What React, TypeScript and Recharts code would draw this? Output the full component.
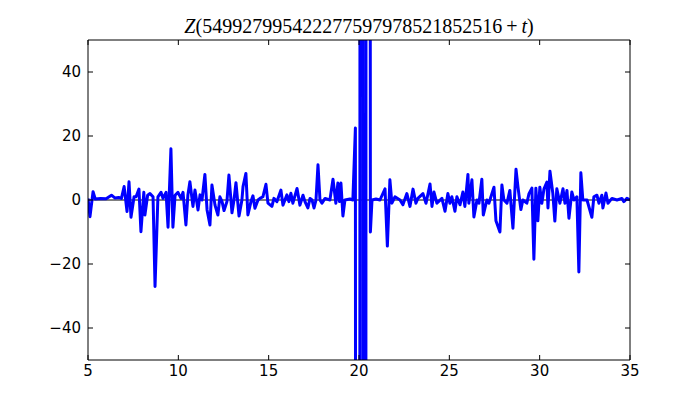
import { LineChart, Line, XAxis, YAxis, ReferenceLine } from "recharts";

// t positions and Z values
const tValues = [
  5.0, 5.11, 5.28, 5.4, 5.7, 6.0, 6.3, 6.5, 6.7, 6.85, 7.0, 7.16, 7.27, 7.38, 7.55, 7.66, 7.82, 7.93, 8.09, 8.15,
  8.3, 8.43, 8.6, 8.71, 8.87, 9.04, 9.15, 9.32, 9.43, 9.59, 9.7, 9.82, 9.98, 10.15, 10.26, 10.42, 10.53, 10.64, 10.81, 10.92,
  11.09, 11.2, 11.31, 11.47, 11.59, 11.75, 11.86, 12.03, 12.19, 12.3, 12.42, 12.53, 12.69, 12.8, 12.97, 13.08, 13.19, 13.36, 13.52, 13.58,
  13.74, 13.85, 14.02, 14.13, 14.24, 14.41, 14.52, 14.68, 14.85, 14.96, 15.18, 15.29, 15.46, 15.68, 15.79, 16.01, 16.12, 16.23, 16.34, 16.57,
  16.73, 16.9, 17.01, 17.17, 17.29, 17.4, 17.51, 17.62, 17.73, 17.84, 17.95, 18.12, 18.39, 18.56, 18.72, 18.83, 18.92, 19.0, 19.11, 19.22,
  19.5, 19.66, 19.8, 19.98, 20.12, 20.32, 20.45, 20.63, 20.72, 20.94, 21.16, 21.44, 21.57, 21.71, 21.82, 21.99, 22.27, 22.43, 22.65, 22.82,
  22.99, 23.15, 23.26, 23.54, 23.71, 23.93, 24.04, 24.15, 24.31, 24.59, 24.76, 24.92, 25.03, 25.14, 25.31, 25.42, 25.59, 25.75, 25.86, 26.03,
  26.08, 26.25, 26.36, 26.53, 26.64, 26.8, 26.88, 27.08, 27.19, 27.47, 27.58, 27.8, 27.91, 28.02, 28.19, 28.35, 28.52, 28.69, 28.8, 28.96,
  29.07, 29.29, 29.41, 29.57, 29.68, 29.79, 29.9, 30.01, 30.12, 30.24, 30.4, 30.46, 30.57, 30.73, 30.84, 30.95, 31.12, 31.29, 31.4, 31.51,
  31.62, 31.78, 31.9, 32.06, 32.17, 32.28, 32.39, 32.62, 32.89, 33.0, 33.17, 33.28, 33.44, 33.5, 33.67, 33.78, 34.0, 34.28, 34.55, 34.66,
  34.83, 35.0,
];

const zValues = [
  0.5, -5.2, 2.6, 0.3, 0.5, 0.4, 1.5, 0.6, 0.8, 0.5, 4.2, -3.6, 5.7, -5.4, 1.0, 1.0, 3.4, -9.9, 2.4, -4.7,
  1.5, 2.0, 1.0, -27, 1.0, 2.4, 0.5, 2.4, -8.5, 16, -8.5, 1.5, 2.4, 0.5, 2.4, -7.8, 1.6, 5.7, -2.0, 3.1,
  -3.1, 1.6, 0.0, 8.0, -3.1, -7.8, 4.7, -1.6, -4.7, 1.0, -0.5, -3.3, -0.5, 7.8, -4.0, 0.0, 5.4, -5.0, 0.0, 4.2,
  8.3, -4.7, -0.5, 1.3, -2.6, 0.0, 0.5, 1.0, 4.9, -1.0, -2.0, 0.5, -0.5, 3.1, -1.6, 1.6, -0.5, 2.1, -1.0, 3.6,
  -1.6, 1.5, -0.5, -2.5, 0.5, 0.0, -2.5, 0.0, 11, 0.0, -1.0, 0.5, 0.0, 6.5, -1.0, 5.3, -0.5, 5.3, -5.0, 0.0,
  0.3, 0.0, 22.5, -2000, 2000, -2000, 2000, -10, 0.0, 0.3, 0.0, 3.5, -14.4, 6.3, -1.0, 1.0, 0.0, -1.5, 2.0, -2.0,
  3.4, -1.0, 0.5, 2.0, -1.0, 5.0, -2.0, 2.5, -1.0, 0.5, -3.5, 2.0, -1.0, 1.0, -3.5, 1.0, -1.5, 2.5, -2.0, 8.0,
  -1.0, 6.3, -5.3, 0.0, -1.0, 6.5, -4.7, 0.0, -1.0, 4.0, -6.5, -10, 4.7, 0.0, -1.0, 3.0, -8.8, 9.6, 4.0, -3.0,
  0.0, -1.0, 2.0, 3.7, -18.5, 3.7, -6.5, 4.0, -1.0, 3.5, 5.6, -2.5, 9.0, 2.0, -6.6, 3.5, -1.0, 3.5, -1.0, 3.0,
  -5.7, 2.5, 0.0, 1.0, -22.5, 8.5, 0.0, 0.0, -5.4, 1.0, 1.5, -1.0, 1.5, -2.5, 2.2, -1.0, 0.5, 0.0, 0.5, -0.5,
  0.5, 0.0,
];

const xTicks = [5, 10, 15, 20, 25, 30, 35];
const yTicks = [-40, -20, 0, 20, 40];
const title = "549927995422277597978521852516";

const data = tValues.map((t, i) => ({ t, z: zValues[i] }));

const fmt = (v: number) => (v < 0 ? "\u2212" + Math.abs(v) : String(v));
const labelFont = "'DejaVu Sans', sans-serif";

function BottomTick(props: any) {
  const { x, y, payload } = props;
  return (
    <g>
      <line x1={x} x2={x} y1={y} y2={y - 5} stroke="#000" />
      <text x={x} y={y + 16} textAnchor="middle" fontSize={15} fontFamily={labelFont} fill="#000">
        {fmt(payload.value)}
      </text>
    </g>
  );
}

function LeftTick(props: any) {
  const { x, y, payload } = props;
  return (
    <g>
      <line x1={x} x2={x + 5} y1={y} y2={y} stroke="#000" />
      <text x={x - 7} y={y + 5} textAnchor="end" fontSize={15} fontFamily={labelFont} fill="#000">
        {fmt(payload.value)}
      </text>
    </g>
  );
}

function TopTick(props: any) {
  const { x, y } = props;
  return <line x1={x} x2={x} y1={y} y2={y + 5} stroke="#000" />;
}

function RightTick(props: any) {
  const { x, y } = props;
  return <line x1={x} x2={x - 5} y1={y} y2={y} stroke="#000" />;
}

export default function App() {
  return (
    <div style={{ position: "relative", width: 700, height: 400, background: "#fff" }}>
      <div
        style={{
          position: "absolute",
          left: 80,
          width: 542,
          top: 8,
          textAlign: "center",
          fontFamily: "'Liberation Serif', serif",
          fontSize: 20,
          lineHeight: "20px",
          color: "#000",
          whiteSpace: "nowrap",
        }}
      >
        <i>Z</i>({title}{"\u2009+\u2009"}<i>t</i>)
      </div>
      <LineChart
        width={700}
        height={400}
        data={data}
        margin={{ top: 30, right: 68, bottom: 18, left: 20 }}
      >
        <XAxis
          dataKey="t"
          type="number"
          domain={[5, 35]}
          ticks={xTicks}
          allowDataOverflow
          tickLine={false}
          tickSize={0}
          tickMargin={0}
          height={30}
          axisLine={{ stroke: "#000" }}
          tick={<BottomTick />}
        />
        <XAxis
          xAxisId="top"
          orientation="top"
          dataKey="t"
          type="number"
          domain={[5, 35]}
          ticks={xTicks}
          allowDataOverflow
          tickLine={false}
          tickSize={0}
          tickMargin={0}
          height={2}
          axisLine={{ stroke: "#000" }}
          tick={<TopTick />}
        />
        <YAxis
          type="number"
          domain={[-50, 50]}
          ticks={yTicks}
          allowDataOverflow
          tickLine={false}
          tickSize={0}
          tickMargin={0}
          width={60}
          axisLine={{ stroke: "#000" }}
          tick={<LeftTick />}
        />
        <YAxis
          yAxisId="right"
          orientation="right"
          type="number"
          domain={[-50, 50]}
          ticks={yTicks}
          allowDataOverflow
          tickLine={false}
          tickSize={0}
          tickMargin={0}
          width={10}
          axisLine={{ stroke: "#000" }}
          tick={<RightTick />}
        />
        <ReferenceLine y={0} stroke="#000" strokeWidth={1} />
        <Line
          type="linear"
          dataKey="z"
          stroke="#0000ff"
          strokeWidth={3}
          strokeLinejoin="round"
          dot={false}
          isAnimationActive={false}
        />
      </LineChart>
    </div>
  );
}
